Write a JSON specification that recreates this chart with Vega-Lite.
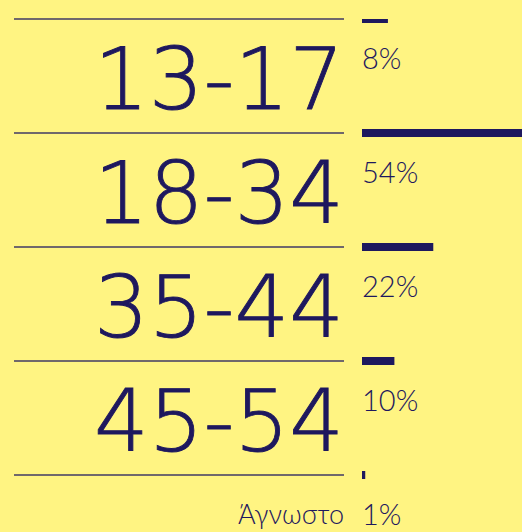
{
  "$schema": "https://vega.github.io/schema/vega-lite/v6.json",
  "background": "#fff482",
  "padding": {"left": 13, "top": 18, "right": 0, "bottom": 0},
  "config": {"view": {"stroke": null}, "concat": {"spacing": 17}},
  "data": {"values": [
    {"cat": "13-17", "pct": 8},
    {"cat": "18-34", "pct": 54},
    {"cat": "35-44", "pct": 22},
    {"cat": "45-54", "pct": 10},
    {"cat": "Άγνωστο", "pct": 1}
  ]},
  "hconcat": [
    {
      "width": 330,
      "height": {"step": 114},
      "layer": [
        {
          "mark": {"type": "rule", "color": "#1e185e", "strokeWidth": 1.5, "opacity": 0.85},
          "encoding": {
            "y": {"field": "cat", "type": "nominal", "sort": null, "bandPosition": 0, "axis": null, "scale": {"paddingInner": 0, "paddingOuter": 0}}
          }
        },
        {
          "transform": [{"filter": "datum.cat !== 'Άγνωστο'"}],
          "mark": {"type": "text", "align": "right", "baseline": "alphabetic", "font": "DejaVu Sans", "fontWeight": 200, "fontSize": 86, "color": "#1e185e", "stroke": "#1e185e", "strokeWidth": 0.9, "dy": 90},
          "encoding": {
            "y": {"field": "cat", "type": "nominal", "sort": null, "bandPosition": 0, "axis": null},
            "x": {"value": "width"},
            "text": {"field": "cat"}
          }
        },
        {
          "transform": [{"filter": "datum.cat === 'Άγνωστο'"}],
          "mark": {"type": "text", "align": "right", "baseline": "alphabetic", "font": "Lato", "fontWeight": 300, "fontSize": 27, "color": "#1e185e", "dy": 49},
          "encoding": {
            "y": {"field": "cat", "type": "nominal", "sort": null, "bandPosition": 0, "axis": null},
            "x": {"value": "width"},
            "text": {"field": "cat"}
          }
        }
      ]
    },
    {
      "width": 162,
      "height": {"step": 114},
      "layer": [
        {
          "mark": {"type": "rule", "color": "#1e185e", "strokeWidth": 8, "clip": true},
          "encoding": {
            "y": {"field": "cat", "type": "nominal", "sort": null, "bandPosition": 0, "axis": null, "scale": {"paddingInner": 0, "paddingOuter": 0}},
            "x": {"field": "pct", "type": "quantitative", "axis": null, "scale": {"domain": [0, 48]}},
            "x2": {"datum": 0}
          }
        },
        {
          "transform": [{"calculate": "datum.pct + '%'", "as": "label"}],
          "mark": {"type": "text", "align": "left", "baseline": "alphabetic", "font": "Lato", "fontWeight": 300, "fontSize": 29, "color": "#1e185e", "dy": 50},
          "encoding": {
            "y": {"field": "cat", "type": "nominal", "sort": null, "bandPosition": 0, "axis": null},
            "x": {"datum": 0, "type": "quantitative"},
            "text": {"field": "label"}
          }
        }
      ]
    }
  ]
}
